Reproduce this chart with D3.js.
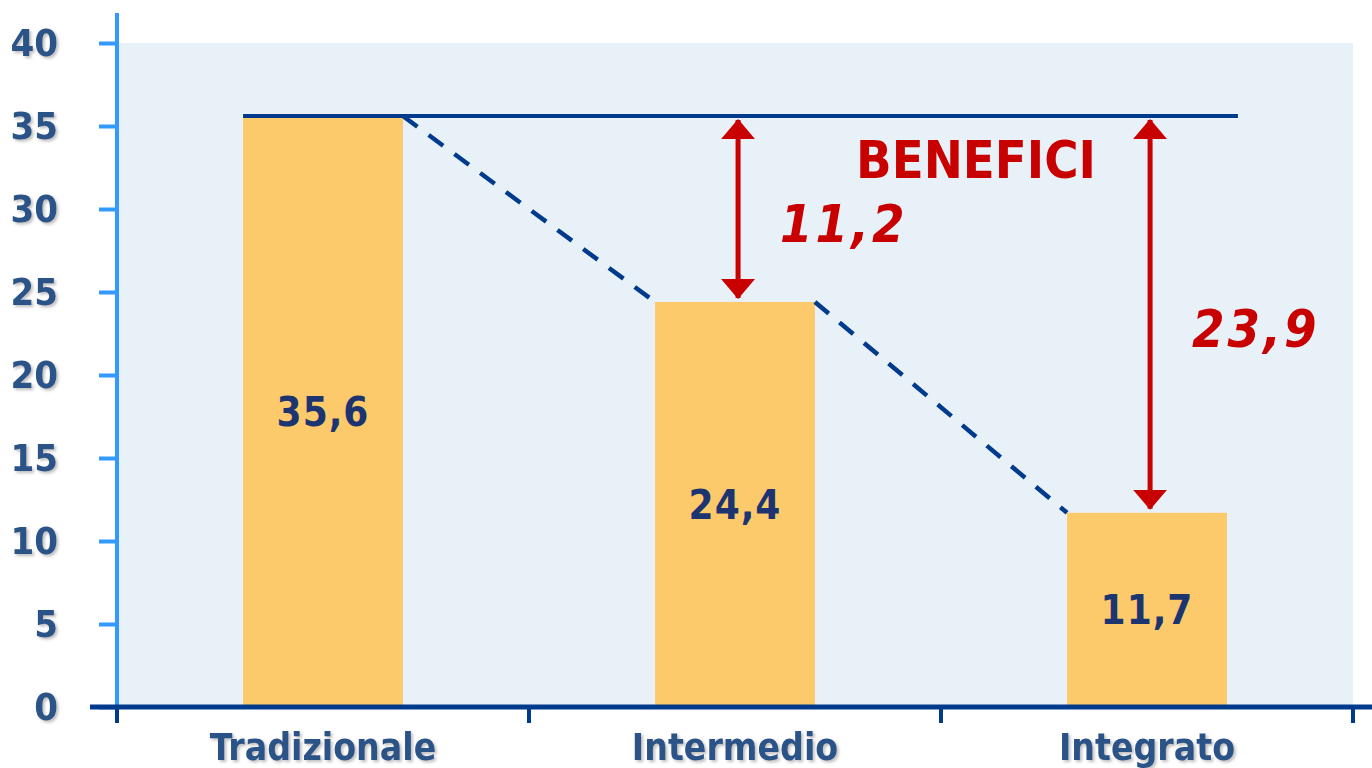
<!DOCTYPE html>
<html>
<head>
<meta charset="utf-8">
<script src="https://cdn.jsdelivr.net/npm/d3@7"></script>
<style>
  html, body { margin: 0; padding: 0; background: #fff; }
  svg { display: block; }
  text { font-family: "DejaVu Sans Condensed", "DejaVu Sans", sans-serif; font-weight: bold; }
</style>
</head>
<body>
<div id="chart"></div>
<script>
// data
const categories = ["Tradizionale", "Intermedio", "Integrato"]
const values = [35.6, 24.4, 11.7]
const benefits = [null, 11.2, 23.9]
const yTicks = [0, 5, 10, 15, 20, 25, 30, 35, 40]
const benefitTitle = "BENEFICI"

const width = 1372
const height = 768

const colors = {
    bg: "#e8f1f8",
    bar: "#fdca6b",
    navy: "#003a8c",
    axisBlue: "#3399ff",
    label: "#2c5288",
    barLabel: "#1c3470",
    red: "#c80000"
}

const it = d3.formatLocale({decimal: ",", thousands: ".", grouping: [3], currency: ["€", ""]})
const fmt = it.format(".1f")

const svg = d3.select("#chart").append("svg")
    .attr("width", width)
    .attr("height", height)

const defs = svg.append("defs")
defs.append("filter")
    .attr("id", "shadow")
    .attr("x", "-10%").attr("y", "-20%").attr("width", "130%").attr("height", "150%")
    .append("feDropShadow")
    .attr("dx", 2).attr("dy", 2).attr("stdDeviation", 1.5)
    .attr("flood-color", "#888").attr("flood-opacity", 0.55)

// arrow heads (20 long, 34 wide)
defs.append("marker")
    .attr("id", "head")
    .attr("markerUnits", "userSpaceOnUse")
    .attr("viewBox", "0 0 20 34")
    .attr("refX", 19).attr("refY", 17)
    .attr("markerWidth", 20).attr("markerHeight", 34)
    .attr("orient", "auto-start-reverse")
    .append("path")
    .attr("d", "M0,0 L20,17 L0,34 Z")
    .attr("fill", colors.red)

// scales
const x = d3.scaleBand()
    .domain(categories)
    .range([117, 1353])
    .paddingInner(0.612)
    .paddingOuter(0.306)

const y = d3.scaleLinear()
    .domain([0, 40])
    .range([707, 43])

const step = x.step()
const bandStart = c => x(c) - x.paddingInner() * step / 2

// plot background
svg.append("rect")
    .attr("x", x.range()[0])
    .attr("y", y(40))
    .attr("width", x.range()[1] - x.range()[0])
    .attr("height", y(0) - y(40))
    .attr("fill", colors.bg)

// bars
svg.selectAll("rect.bar")
    .data(categories)
    .join("rect")
    .attr("class", "bar")
    .attr("x", d => x(d))
    .attr("y", (d, i) => y(values[i]))
    .attr("width", x.bandwidth())
    .attr("height", (d, i) => y(0) - y(values[i]))
    .attr("fill", colors.bar)

// dashed connectors between bar tops
const links = d3.pairs(categories.map((c, i) => ({c, v: values[i]})))
svg.selectAll("line.link")
    .data(links)
    .join("line")
    .attr("class", "link")
    .attr("x1", d => x(d[0].c) + x.bandwidth())
    .attr("y1", d => y(d[0].v))
    .attr("x2", d => x(d[1].c))
    .attr("y2", d => y(d[1].v))
    .attr("stroke", colors.navy)
    .attr("stroke-width", 4.5)
    .attr("stroke-dasharray", "18,14")

// reference line at the first value
svg.append("line")
    .attr("x1", x(categories[0]))
    .attr("x2", x(categories[2]) + x.bandwidth() + 11)
    .attr("y1", y(values[0]))
    .attr("y2", y(values[0]))
    .attr("stroke", colors.navy)
    .attr("stroke-width", 4)

// benefit arrows
const arrowData = categories.map((c, i) => ({c, v: values[i], b: benefits[i]})).filter(d => d.b !== null)
svg.selectAll("line.arrow")
    .data(arrowData)
    .join("line")
    .attr("class", "arrow")
    .attr("x1", d => x(d.c) + 83)
    .attr("x2", d => x(d.c) + 83)
    .attr("y1", y(values[0]) + 4)
    .attr("y2", d => y(d.v) - 4)
    .attr("stroke", colors.red)
    .attr("stroke-width", 5)
    .attr("marker-start", "url(#head)")
    .attr("marker-end", "url(#head)")

svg.selectAll("text.benefit")
    .data(arrowData)
    .join("text")
    .attr("class", "benefit")
    .attr("x", d => x(d.c) + 125)
    .attr("y", d => (y(values[0]) + y(d.v)) / 2 + 33)
    .attr("fill", colors.red)
    .style("font-size", "52px")
    .style("font-style", "italic")
    .style("letter-spacing", "3px")
    .text(d => fmt(d.b))

svg.append("text")
    .attr("x", x(categories[1]) + 201)
    .attr("y", y(values[0]) + 62)
    .attr("fill", colors.red)
    .style("font-size", "52px")
    .style("font-weight", "bold")
    .text(benefitTitle)

// bar value labels
svg.selectAll("text.value")
    .data(categories)
    .join("text")
    .attr("class", "value")
    .attr("x", d => x(d) + x.bandwidth() / 2)
    .attr("y", (d, i) => (y(values[i]) + y(0)) / 2)
    .attr("dy", "0.36em")
    .attr("text-anchor", "middle")
    .attr("fill", colors.barLabel)
    .style("font-size", "40px")
    .style("letter-spacing", "1px")
    .text((d, i) => fmt(values[i]))

// y axis
const yAxis = svg.append("g")
    .attr("transform", `translate(${x.range()[0]},0)`)
    .call(d3.axisLeft(y).tickValues(yTicks).tickSize(18).tickPadding(41).tickFormat(d3.format("d")))
yAxis.select(".domain").remove()
yAxis.selectAll(".tick line")
    .attr("stroke", colors.axisBlue)
    .attr("stroke-width", 4)
yAxis.selectAll(".tick text")
    .attr("fill", colors.label)
    .attr("filter", "url(#shadow)")
    .style("font-size", "38px")
    .style("font-family", "'DejaVu Sans Condensed', sans-serif")
yAxis.append("line")
    .attr("y1", 13)
    .attr("y2", y(0) + 4)
    .attr("stroke", colors.axisBlue)
    .attr("stroke-width", 4)

// x axis
const xAxis = svg.append("g")
xAxis.append("line")
    .attr("x1", 90)
    .attr("x2", width)
    .attr("y1", y(0))
    .attr("y2", y(0))
    .attr("stroke", colors.navy)
    .attr("stroke-width", 5)
const boundaries = categories.map(bandStart).concat([x.range()[1]])
xAxis.selectAll("line.tick")
    .data(boundaries)
    .join("line")
    .attr("class", "tick")
    .attr("x1", d => d)
    .attr("x2", d => d)
    .attr("y1", y(0))
    .attr("y2", y(0) + 16)
    .attr("stroke", colors.navy)
    .attr("stroke-width", 4)
xAxis.selectAll("text")
    .data(categories)
    .join("text")
    .attr("x", d => x(d) + x.bandwidth() / 2)
    .attr("y", 760)
    .attr("text-anchor", "middle")
    .attr("fill", colors.label)
    .attr("filter", "url(#shadow)")
    .style("font-size", "37px")
    .text(d => d)
</script>
</body>
</html>
